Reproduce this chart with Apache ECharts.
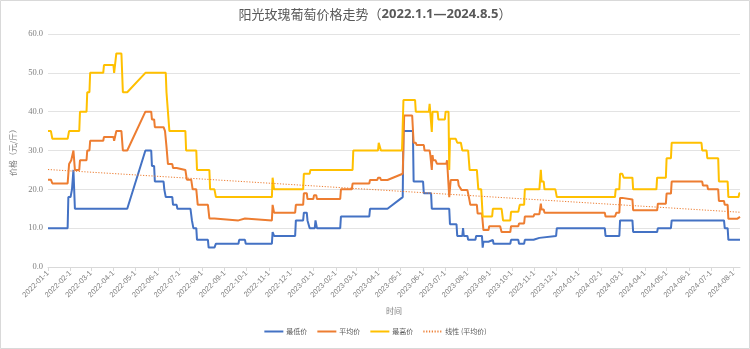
<!DOCTYPE html>
<html>
<head>
<meta charset="utf-8">
<script src="https://cdn.jsdelivr.net/npm/echarts@6/dist/echarts.min.js"></script>
<style>
  html, body { margin: 0; padding: 0; background: #fff; }
  #chart { width: 750px; height: 349px; }
</style>
</head>
<body>
<div id="chart"></div>
<script>
// Shine Muscat grape prices, 2022-01-01 to 2024-08, yuan per jin.
// Each series is a list of [date, price] observations.
const lowPrice = [
  ['2022-01-01',10],['2022-01-28',10],['2022-01-29',18],['2022-02-01',18],['2022-02-03',20],['2022-02-05',25],
  ['2022-02-07',15],['2022-04-20',15],['2022-05-15',30],['2022-05-23',30],['2022-05-24',26],['2022-05-27',26],
  ['2022-05-28',22],['2022-06-09',22],['2022-06-10',20],['2022-06-12',18],['2022-06-21',18],['2022-06-22',16],
  ['2022-06-27',16],['2022-06-28',15],['2022-07-16',15],['2022-07-18',12],['2022-07-20',10],['2022-07-24',10],
  ['2022-07-25',7],['2022-08-09',7],['2022-08-10',5],['2022-08-18',5],['2022-08-20',6],['2022-09-20',6],
  ['2022-09-21',7],['2022-09-29',7],['2022-09-30',6],['2022-11-05',6],['2022-11-06',9],['2022-11-08',8],
  ['2022-12-07',8],['2022-12-08',12],['2022-12-18',12],['2022-12-19',14],['2022-12-23',14],['2022-12-24',12],
  ['2022-12-26',12],['2022-12-27',10],['2023-01-03',10],['2023-01-04',12],['2023-01-05',12],['2023-01-06',10],
  ['2023-02-07',10],['2023-02-08',13],['2023-03-19',13],['2023-03-20',15],['2023-04-13',15],['2023-05-04',18],
  ['2023-05-05',35],['2023-05-18',35],['2023-05-19',22],['2023-06-01',22],['2023-06-02',19],['2023-06-12',19],
  ['2023-06-13',15],['2023-07-07',15],['2023-07-08',11],['2023-07-17',11],['2023-07-18',8],['2023-07-25',8],
  ['2023-07-26',10],['2023-07-27',8],['2023-08-01',8],['2023-08-02',7],['2023-08-12',7],['2023-08-13',8],
  ['2023-08-21',8],['2023-08-22',5],['2023-08-23',6.5],['2023-08-30',6.5],['2023-08-31',7],['2023-09-05',7],
  ['2023-09-06',6],['2023-09-29',6],['2023-09-30',7],['2023-10-10',7],['2023-10-11',6],['2023-10-18',6],
  ['2023-10-19',7],['2023-10-31',7],['2023-11-01',7.5],['2023-11-08',7.5],['2023-11-09',8],['2023-12-01',8],
  ['2023-12-02',10],['2024-02-06',10],['2024-02-07',8],['2024-02-26',8],['2024-02-27',12],['2024-03-15',12],
  ['2024-03-16',9],['2024-04-18',9],['2024-04-19',10],['2024-05-07',10],['2024-05-08',12],['2024-07-19',12],
  ['2024-07-20',10],['2024-07-24',10],['2024-07-25',7],['2024-08-10',7]
];

const avgPrice = [
  ['2022-01-01',22.5],['2022-01-05',22.5],['2022-01-07',21.5],['2022-01-28',21.5],['2022-01-30',26.5],['2022-02-01',26.5],
  ['2022-02-02',27.5],['2022-02-04',27.5],['2022-02-05',30],['2022-02-07',25],['2022-02-13',25],['2022-02-14',27.5],
  ['2022-02-23',27.5],['2022-02-24',30],['2022-02-27',30],['2022-02-28',32.5],['2022-03-18',32.5],['2022-03-19',33.5],
  ['2022-04-01',33.5],['2022-04-02',32.5],['2022-04-04',32.5],['2022-04-05',35],['2022-04-12',35],['2022-04-14',30],
  ['2022-04-20',30],['2022-05-15',40],['2022-05-23',40],['2022-05-24',38],['2022-05-27',38],['2022-05-28',36],
  ['2022-06-09',36],['2022-06-11',35],['2022-06-13',31],['2022-06-15',26.5],['2022-06-21',26.5],['2022-06-22',25.5],
  ['2022-06-27',25.5],['2022-06-28',25],['2022-07-09',25],['2022-07-11',22.5],['2022-07-17',22.5],['2022-07-19',20],
  ['2022-07-24',20],['2022-07-26',16],['2022-08-09',16],['2022-08-11',12.5],['2022-08-18',12.5],['2022-08-20',12],
  ['2022-09-20',12],['2022-09-21',12.5],['2022-09-29',12.5],['2022-09-30',12],['2022-11-05',12],['2022-11-06',16],
  ['2022-11-08',14],['2022-12-07',14],['2022-12-08',16],['2022-12-18',16],['2022-12-19',19],['2022-12-23',19],
  ['2022-12-24',17.5],['2023-01-01',17.5],['2023-01-02',18.5],['2023-01-05',18.5],['2023-01-06',17.5],['2023-02-07',17.5],
  ['2023-02-08',20],['2023-02-23',20],['2023-02-24',21.5],['2023-03-19',21.5],['2023-03-20',22.4],['2023-03-30',22.4],
  ['2023-03-31',23],['2023-04-03',23],['2023-04-04',22.4],['2023-04-13',22.4],['2023-05-04',24],['2023-05-06',39],
  ['2023-05-17',39],['2023-05-19',32],['2023-05-22',32],['2023-05-23',31.4],['2023-06-02',31.4],['2023-06-03',30],
  ['2023-06-10',30],['2023-06-11',28.8],['2023-06-12',28.8],['2023-06-13',25],['2023-06-14',28.8],['2023-06-15',27.5],
  ['2023-06-18',27.5],['2023-06-20',26.6],['2023-07-03',26.6],['2023-07-04',27.5],['2023-07-06',27.5],['2023-07-07',18],
  ['2023-07-09',22.4],['2023-07-19',22.4],['2023-07-20',21],['2023-07-22',21],['2023-07-24',19.8],['2023-08-01',19.8],
  ['2023-08-03',18],['2023-08-05',16],['2023-08-14',16],['2023-08-15',13.8],['2023-08-21',13.8],['2023-08-23',9.5],
  ['2023-08-30',9.5],['2023-08-31',10.5],['2023-09-15',10.5],['2023-09-17',9],['2023-09-29',9],['2023-09-30',10.5],
  ['2023-10-10',10.5],['2023-10-11',11.2],['2023-10-18',11.2],['2023-10-19',13],['2023-10-31',13],['2023-11-01',13.6],
  ['2023-11-08',13.6],['2023-11-10',16.3],['2023-11-11',14.8],['2023-11-14',14.8],['2023-11-15',14],['2024-02-06',14],
  ['2024-02-07',13],['2024-02-20',13],['2024-02-22',14],['2024-02-26',14],['2024-02-27',17.8],['2024-03-01',17.8],
  ['2024-03-02',17.4],['2024-03-15',17.4],['2024-03-16',14.6],['2024-04-18',14.6],['2024-04-19',16.3],['2024-04-30',16.3],
  ['2024-05-01',18.9],['2024-05-07',18.9],['2024-05-08',22],['2024-06-19',22],['2024-06-20',21],['2024-06-26',21],
  ['2024-06-27',20],['2024-07-11',20],['2024-07-12',17],['2024-07-19',17],['2024-07-20',16],['2024-07-24',16],
  ['2024-07-25',12.4],['2024-08-06',12.4],['2024-08-08',12.9],['2024-08-10',12.9]
];

const maxPrice = [
  ['2022-01-01',35],['2022-01-05',35],['2022-01-07',33],['2022-01-28',33],['2022-01-30',35],['2022-02-13',35],
  ['2022-02-14',40],['2022-02-23',40],['2022-02-24',45],['2022-02-27',45],['2022-02-28',50],['2022-03-18',50],
  ['2022-03-19',52],['2022-04-01',52],['2022-04-02',50],['2022-04-04',50],['2022-04-05',55],['2022-04-12',55],
  ['2022-04-14',45],['2022-04-20',45],['2022-05-15',50],['2022-06-12',50],['2022-06-13',45],['2022-06-15',45],
  ['2022-06-17',35],['2022-07-09',35],['2022-07-10',30],['2022-07-24',30],['2022-07-25',25],['2022-08-11',25],
  ['2022-08-12',20],['2022-08-18',20],['2022-08-20',18],['2022-11-05',18],['2022-11-06',23],['2022-11-08',20],
  ['2022-12-18',20],['2022-12-19',24],['2022-12-27',24],['2022-12-28',25],['2023-02-24',25],['2023-02-25',30],
  ['2023-03-31',30],['2023-04-01',32],['2023-04-03',32],['2023-04-04',30],['2023-05-03',30],['2023-05-05',43],
  ['2023-05-21',43],['2023-05-22',40],['2023-06-09',40],['2023-06-10',42],['2023-06-12',42],['2023-06-13',34.8],
  ['2023-06-14',40],['2023-06-21',40],['2023-06-22',38],['2023-07-01',38],['2023-07-02',40],['2023-07-06',40],
  ['2023-07-07',25],['2023-07-08',33],['2023-07-16',33],['2023-07-18',32],['2023-07-23',32],['2023-07-25',30],
  ['2023-08-02',30],['2023-08-04',25],['2023-08-14',25],['2023-08-16',20],['2023-08-20',20],['2023-08-22',13],
  ['2023-09-04',13],['2023-09-05',15],['2023-09-17',15],['2023-09-19',12],['2023-09-29',12],['2023-09-30',14.2],
  ['2023-10-10',14.2],['2023-10-12',16],['2023-10-18',16],['2023-10-19',20],['2023-11-08',20],['2023-11-10',25],
  ['2023-11-11',22],['2023-11-14',22],['2023-11-15',20],['2023-11-30',20],['2023-12-02',18],['2024-02-20',18],
  ['2024-02-21',20],['2024-02-26',20],['2024-02-27',24],['2024-03-01',24],['2024-03-03',23],['2024-03-15',23],
  ['2024-03-16',20],['2024-04-17',20],['2024-04-18',23],['2024-04-30',23],['2024-05-01',28],['2024-05-07',28],
  ['2024-05-08',32],['2024-06-18',32],['2024-06-19',30],['2024-06-25',30],['2024-06-26',28],['2024-07-11',28],
  ['2024-07-12',22],['2024-07-24',22],['2024-07-25',18],['2024-08-08',18],['2024-08-09',19],['2024-08-10',19]
];

// Linear trend of the average price (end points)
const avgTrend = [['2022-01-01',25.1],['2024-08-10',14.1]];

const seriesNames = ['最低价', '平均价', '最高价', '线性 (平均价)'];
const seriesColors = ['#4472C4', '#ED7D31', '#FFC000', '#ED7D31'];
const yTicks = { min: 0, max: 60, step: 10 };
const dateRange = ['2022-01-01', '2024-08-10'];

const DAY = 24 * 3600 * 1000;
const grey = '#7f7f7f';

const chart = echarts.init(document.getElementById('chart'), null, { renderer: 'canvas' });

function lineSeries(name, data, color) {
  return {
    name, type: 'line', data,
    showSymbol: false, symbol: 'none',
    lineStyle: { color, width: 2 },
    itemStyle: { color },
    animation: false
  };
}

chart.setOption({
  animation: false,
  backgroundColor: '#fff',
  title: {
    text: '{a|阳光玫瑰葡萄价格走势（}{b|2022.1.1—2024.8.5}{a|）}',
    left: 'center', top: 3,
    textStyle: {
      rich: {
        a: { fontSize: 13, color: '#595959', fontFamily: 'Noto Sans CJK SC', fontWeight: 'normal' },
        b: { fontSize: 13, color: '#595959', fontFamily: 'Noto Sans', fontWeight: 'bold' }
      }
    }
  },
  grid: { left: 48, right: 10, top: 34, bottom: 82, containLabel: false },
  legend: {
    bottom: 9, left: 'center',
    itemWidth: 19, itemHeight: 6, itemGap: 9,
    itemStyle: { opacity: 0 },
    textStyle: { fontSize: 7, color: '#595959', fontFamily: 'Noto Sans CJK SC', padding: [0, 0, 0, -2] },
    data: seriesNames
  },
  xAxis: {
    type: 'time',
    min: dateRange[0], max: dateRange[1],
    minInterval: 28 * DAY, maxInterval: 31 * DAY,
    splitNumber: 31,
    name: '时间', nameLocation: 'middle', nameGap: 40,
    nameTextStyle: { fontSize: 8, color: grey, fontFamily: 'Noto Sans CJK SC' },
    axisLine: { lineStyle: { color: '#d9d9d9', width: 1 } },
    axisTick: { show: true, length: 4, lineStyle: { color: '#d9d9d9' } },
    splitLine: { show: false },
    axisLabel: {
      rotate: 45, fontSize: 7.5, color: grey, margin: 5,
      formatter: '{yyyy}-{MM}-{d}', hideOverlap: false,
      showMinLabel: true, showMaxLabel: false,
      fontFamily: 'Liberation Sans'
    }
  },
  yAxis: {
    type: 'value', min: yTicks.min, max: yTicks.max, interval: yTicks.step,
    name: '价格（元/斤）', nameLocation: 'middle', nameGap: 30, nameRotate: 90,
    nameTextStyle: { fontSize: 8, color: grey, fontFamily: 'Noto Sans CJK SC' },
    axisLine: { show: false }, axisTick: { show: false },
    splitLine: { lineStyle: { color: '#e3e3e3', width: 1 } },
    axisLabel: {
      fontSize: 8.5, color: grey, margin: 5, fontFamily: 'Liberation Serif',
      formatter: v => v.toFixed(1)
    }
  },
  graphic: [{
    type: 'rect', silent: true, z: 100,
    shape: { x: 0.5, y: 0.5, width: 749, height: 348 },
    style: { fill: 'none', stroke: '#d9d9d9', lineWidth: 1 }
  }],
  series: [
    lineSeries(seriesNames[0], lowPrice, seriesColors[0]),
    lineSeries(seriesNames[1], avgPrice, seriesColors[1]),
    lineSeries(seriesNames[2], maxPrice, seriesColors[2]),
    {
      name: seriesNames[3], type: 'line', data: avgTrend,
      showSymbol: false, symbol: 'none',
      lineStyle: { color: seriesColors[3], width: 1, type: [1.2, 1.6] },
      itemStyle: { color: seriesColors[3] },
      animation: false, z: 3
    }
  ]
});
</script>
</body>
</html>
